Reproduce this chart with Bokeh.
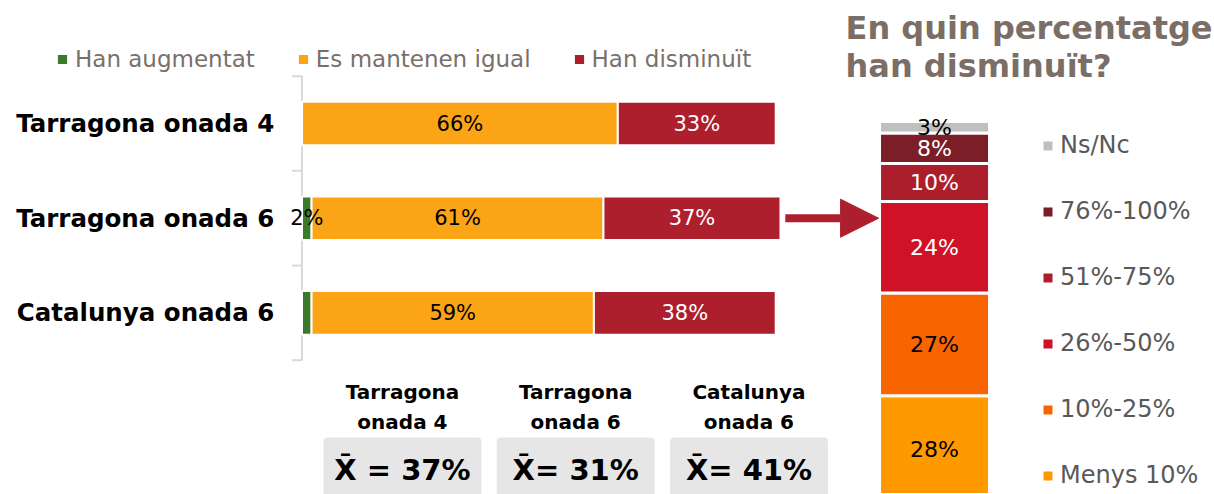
import numpy as np
from bokeh.plotting import figure
from bokeh.models import ColumnDataSource, Range1d, Legend, LegendItem, Arrow, NormalHead
from bokeh.core.properties import value
from bokeh.embed import file_html
from bokeh.resources import INLINE

# ---------------- data ----------------
categories = ["Tarragona onada 4", "Tarragona onada 6", "Catalunya onada 6"]
series = ["Han augmentat", "Es mantenen igual", "Han disminuït"]
augmentat = [0, 2, 2]
mantenen = [66, 61, 59]
disminuit = [33, 37, 38]
augmentat_labels = ["", "2%", ""]
series_colors = ["#3B7A2C", "#FBA415", "#AE1F2E"]
series_label_colors = ["black", "black", "white"]

means = [37, 31, 41]
mean_sep = [" ", "", ""]

pct_bands = ["Menys 10%", "10%-25%", "26%-50%", "51%-75%", "76%-100%", "Ns/Nc"]
pct_values = [28, 27, 24, 10, 8, 3]
pct_colors = ["#FF9900", "#F86500", "#CF1228", "#AD1E2D", "#7B1E27", "#BFBFBF"]
pct_label_colors = ["black", "black", "white", "white", "white", "black"]

title_text = "En quin percentatge\nhan disminuït?"

FONT_NAME = "DejaVu Sans"
FONT = value(FONT_NAME)

# ---------------- figure ----------------
W, H = 1214, 494
p = figure(width=W, height=H, output_backend="svg", toolbar_location=None,
           x_axis_type=None, y_axis_type=None, min_border=0,
           x_range=Range1d(-63.01, 190.70), y_range=Range1d(3.918, -1.299))
p.outline_line_color = None
p.background_fill_color = "white"
p.border_fill_color = "white"
p.extra_x_ranges = {"rx": Range1d(-8.491, 2.545), "bx": Range1d(-2.320, 4.687)}
p.extra_y_ranges = {"ry": Range1d(2.1, 131.76)}

rows = np.arange(len(categories), dtype=float)

# category axis line + boundary ticks
p.segment(x0=[0], y0=[rows[0] - 0.5], x1=[0], y1=[rows[-1] + 0.5],
          line_color="#D9D9D9", line_width=2)
bounds = np.append(rows - 0.5, rows[-1] + 0.5)
p.segment(x0=[-2.1] * len(bounds), y0=bounds, x1=[0] * len(bounds), y1=bounds,
          line_color="#D9D9D9", line_width=2)

# category labels
p.text(x=[-5.8] * len(categories), y=rows, text=categories,
       text_align="right", text_baseline="middle", text_font=FONT,
       text_font_style="bold", text_font_size="24.5px", text_color="black")

# stacked horizontal bars
vals = [augmentat, mantenen, disminuit]
labels_list = [augmentat_labels,
               [f"{v}%" for v in mantenen],
               [f"{v}%" for v in disminuit]]
left = np.zeros(len(categories))
bar_renderers = []
label_sources = []
for name, v, col, lc, labs in zip(series, vals, series_colors, series_label_colors, labels_list):
    v = np.array(v, dtype=float)
    src = ColumnDataSource(dict(y=rows, left=left.copy(), right=left + v,
                                mid=left + v / 2, lab=labs))
    r = p.hbar(y="y", left="left", right="right", height=0.46, source=src,
               fill_color=col, line_color="white", line_width=2)
    bar_renderers.append(r)
    label_sources.append((src, lc))
    left = left + v

for src, lc in label_sources:
    p.text(x="mid", y="y", text="lab", source=src, text_align="center",
           text_baseline="middle", text_font=FONT, text_font_size="21px",
           text_color=lc)

top_legend = Legend(items=[LegendItem(label=s, renderers=[r]) for s, r in zip(series, bar_renderers)],
                    orientation="horizontal", location=(55, 422),
                    glyph_width=14, glyph_height=14, label_standoff=6, spacing=41,
                    padding=0, margin=0, border_line_color=None,
                    background_fill_alpha=0, label_text_font=FONT_NAME,
                    label_text_font_size="23px", label_text_color="#7A706A")
p.add_layout(top_legend)

# arrow from second row to the breakdown bar
p.add_layout(Arrow(x_start=101, y_start=1, x_end=120.5, y_end=1,
                   line_color="#AE1F2E", line_width=8,
                   end=NormalHead(size=38, fill_color="#AE1F2E", line_color="#AE1F2E", line_width=1)))

# right stacked vertical bar
pv = np.array(pct_values, dtype=float)
tops = np.cumsum(pv)
bottoms = tops - pv
src_r = ColumnDataSource(dict(x=[0.0] * len(pv), bottom=bottoms, top=tops,
                              mid=(bottoms + tops) / 2, color=pct_colors,
                              lc=pct_label_colors, lab=[f"{v}%" for v in pct_values]))
rr = p.vbar(x="x", bottom="bottom", top="top", width=1.0, source=src_r,
            fill_color="color", line_color="white", line_width=3,
            x_range_name="rx", y_range_name="ry")
p.text(x="x", y="mid", text="lab", source=src_r, text_align="center",
       text_baseline="middle", text_font=FONT, text_font_size="22px",
       text_color="lc", x_range_name="rx", y_range_name="ry")

right_legend = Legend(items=[LegendItem(label=pct_bands[i], renderers=[rr], index=i)
                             for i in reversed(range(len(pct_bands)))],
                      orientation="vertical", location=(1040, 5),
                      glyph_width=15, glyph_height=15, label_standoff=5, spacing=38,
                      padding=0, margin=0, border_line_color=None,
                      background_fill_alpha=0, label_text_font=FONT_NAME,
                      label_text_font_size="24px", label_text_color="#595959")
p.add_layout(right_legend)

# title of the breakdown
p.text(x=[-0.809], y=[129.4], text=[title_text], text_align="left",
       text_baseline="top", text_font=FONT, text_font_style="bold",
       text_font_size="32px", text_color="#7A6E66", text_line_height=0.98,
       x_range_name="rx", y_range_name="ry")

# mean boxes under the bars
idx = np.arange(len(means), dtype=float)
p.quad(left=idx - 0.456, right=idx + 0.456, top=[3.316] * len(means),
       bottom=[3.95] * len(means), fill_color="#E7E6E6", line_color=None,
       border_radius=4, x_range_name="bx")
p.text(x=idx, y=[2.99] * len(means),
       text=[c.replace(" onada", "\nonada") for c in categories],
       text_align="center", text_baseline="middle", text_font=FONT,
       text_font_style="bold", text_font_size="20px", text_color="black",
       text_line_height=1.245, x_range_name="bx")
p.text(x=idx, y=[3.664] * len(means),
       text=[f"X\u0304{s}= {m}%" for s, m in zip(mean_sep, means)],
       text_align="center", text_baseline="middle", text_font=FONT,
       text_font_style="bold", text_font_size="29px", text_color="black",
       x_range_name="bx")

open("out.html", "w").write(file_html(p, INLINE))
